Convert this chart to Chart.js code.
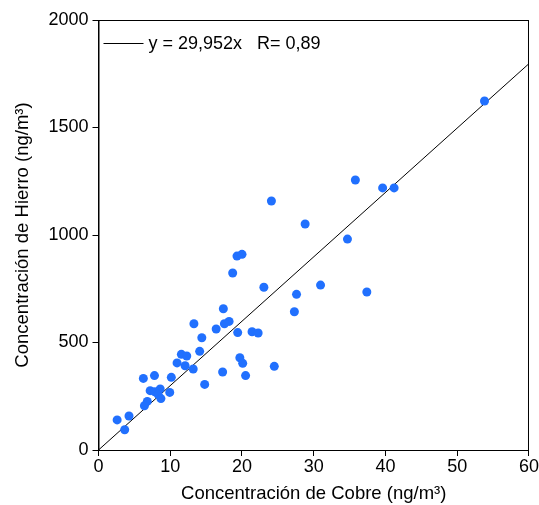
<!DOCTYPE html>
<html lang="es">
<head>
    <meta charset="UTF-8">
    <title>Cobre vs Hierro</title>
    <script src="https://cdn.jsdelivr.net/npm/chart.js"></script>
    <style>
        body { margin: 0; background: #fff; }
        #wrap { width: 539px; height: 505px; }
    </style>
</head>
<body>
    <div id="wrap">
        <canvas id="scatterChart" width="539" height="505"></canvas>
    </div>

    <script>
        // Cobre (x) y Hierro (y)
        const cobre = [53.8, 35.8, 39.6, 41.2, 24.1, 28.8, 34.7, 19.3, 20.0, 18.7,
                       23.05, 27.6, 30.95, 37.4, 17.4, 27.3, 18.2, 13.3, 16.4, 17.55,
                       19.4, 21.4, 22.25, 14.4, 11.55, 12.3, 14.1, 19.7, 20.1, 24.5,
                       20.5, 17.3, 14.8, 10.95, 12.07, 13.2, 10.15, 6.25, 7.8, 7.2,
                       7.85, 8.6, 8.3, 8.7, 9.93, 6.8, 6.4, 4.25, 2.6, 3.65];
        const hierro = [1623, 1256, 1219, 1219, 1158, 1051, 981, 902, 910, 823,
                        757, 724, 767, 735, 657, 643, 598, 587, 563, 587,
                        546, 550, 544, 522, 445, 437, 459, 429, 403, 389,
                        346, 363, 305, 405, 392, 377, 338, 333, 346, 276,
                        271, 284, 259, 239, 268, 226, 206, 158, 140, 94];

        // Recta de ajuste y = 29,952x
        const slope = 29.952;
        const fitX = [0, 60];
        const fitLabel = 'y = 29,952x   R= 0,89';

        const xTicks = [0, 10, 20, 30, 40, 50, 60];
        const yTicks = [0, 500, 1000, 1500, 2000];

        const font = "'Liberation Sans', Arial, sans-serif";

        const points = cobre.map((x, i) => ({ x: x, y: hierro[i] }));
        const fitLine = fitX.map(x => ({ x: x, y: slope * x }));

        // marco de la grafica y leyenda dentro del area
        const framePlugin = {
            id: 'frame',
            afterDraw(chart) {
                const { ctx, chartArea: a } = chart;
                ctx.save();
                ctx.strokeStyle = '#000';
                ctx.lineWidth = 1;
                ctx.strokeRect(a.left + 0.5, a.top + 0.5, a.right - a.left - 1, a.bottom - a.top);
                // leyenda
                ctx.beginPath();
                ctx.moveTo(a.left + 5, a.top + 23.5);
                ctx.lineTo(a.left + 45, a.top + 23.5);
                ctx.stroke();
                ctx.fillStyle = '#000';
                ctx.font = '18px ' + font;
                ctx.textBaseline = 'middle';
                ctx.fillText(fitLabel, a.left + 50, a.top + 24);
                ctx.restore();
            }
        };

        const ctx = document.getElementById('scatterChart').getContext('2d');
        const chart = new Chart(ctx, {
            type: 'scatter',
            data: {
                datasets: [
                    {
                        label: 'Datos',
                        data: points,
                        backgroundColor: '#2170fe',
                        borderColor: '#2170fe',
                        pointRadius: 4.5,
                        pointBorderWidth: 0
                    },
                    {
                        label: fitLabel,
                        type: 'line',
                        data: fitLine,
                        borderColor: '#000',
                        borderWidth: 1,
                        pointRadius: 0,
                        fill: false
                    }
                ]
            },
            options: {
                responsive: false,
                animation: false,
                layout: { padding: { left: 10, right: 10, top: 20, bottom: 0 } },
                plugins: {
                    legend: { display: false },
                    tooltip: { enabled: false }
                },
                scales: {
                    x: {
                        type: 'linear',
                        min: 0,
                        max: 60,
                        afterBuildTicks: s => { s.ticks = xTicks.map(v => ({ value: v })); },
                        afterFit: s => { s.height = 55; },
                        grid: { drawOnChartArea: false, tickLength: 6, color: '#000' },
                        border: { color: '#000' },
                        ticks: {
                            color: '#000', font: { family: font, size: 18 }, padding: 0, maxRotation: 0,
                            callback: v => String(v)
                        },
                        title: {
                            display: true,
                            text: 'Concentración de Cobre (ng/m³)',
                            color: '#000',
                            font: { family: font, size: 18.5 },
                            padding: { top: 0, bottom: 0 }
                        }
                    },
                    y: {
                        min: 0,
                        max: 2000,
                        afterBuildTicks: s => { s.ticks = yTicks.map(v => ({ value: v })); },
                        afterFit: s => { s.width = 88.5; },
                        grid: { drawOnChartArea: false, tickLength: 6, color: '#000' },
                        border: { color: '#000' },
                        ticks: {
                            color: '#000', font: { family: font, size: 18 }, padding: 4,
                            callback: v => String(v)
                        },
                        title: {
                            display: true,
                            text: 'Concentración de Hierro (ng/m³)',
                            color: '#000',
                            font: { family: font, size: 18.5 },
                            padding: { top: 2, bottom: 0 }
                        }
                    }
                }
            },
            plugins: [framePlugin]
        });
    </script>
</body>
</html>
